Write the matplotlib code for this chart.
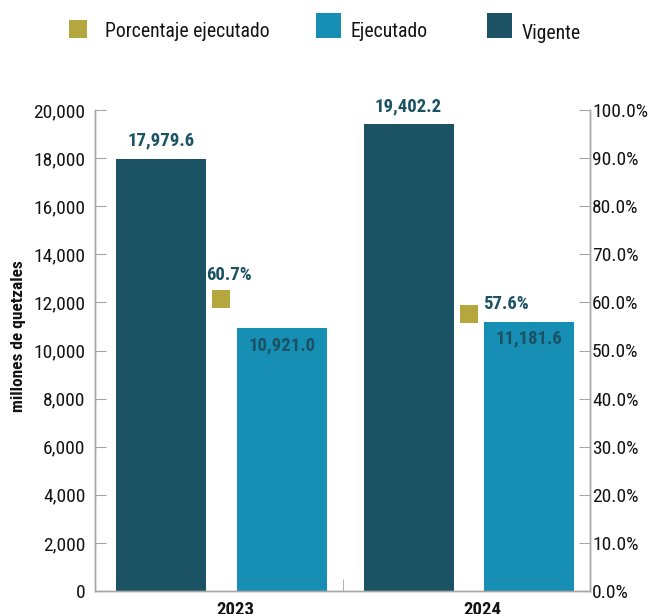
import matplotlib as mpl
import matplotlib.pyplot as plt
from matplotlib.patches import Rectangle
from matplotlib.ticker import FuncFormatter, MultipleLocator, FixedLocator
import numpy as np

# data
years = ["2023", "2024"]
vigente = [17979.6, 19402.2]
ejecutado = [10921.0, 11181.6]
porcentaje = [60.7, 57.6]

mpl.rcParams['font.family'] = ['Roboto Condensed', 'DejaVu Sans']

c_vig = "#1b5264"
c_eje = "#178fb5"
c_pct = "#b3a73d"
c_txt = "#1b5264"
c_axis = "#a6a6a6"
c_dark = "#141414"

W, H = 651, 614
fig = plt.figure(figsize=(W / 100, H / 100), dpi=100)
ax = fig.add_axes([95 / W, 1 - 591 / H, 495 / W, 481 / H])
ax2 = ax.twinx()

x = np.arange(len(years))
w = 0.364
off = 0.244

ax.bar(x - off, vigente, w, color=c_vig, zorder=2)
ax.bar(x + off, ejecutado, w, color=c_eje, zorder=2)

#value labels
for xi, v in zip(x, vigente):
    ax.text(xi - off, v + 380, f"{v:,.1f}", ha="center", va="bottom",
            fontsize=13.5, fontweight="bold", color=c_txt)
for xi, v in zip(x, ejecutado):
    ax.text(xi + off, v - 320, f"{v:,.1f}", ha="center", va="top",
            fontsize=13.5, fontweight="bold", color=c_txt)

#percentage markers
ax2.scatter(x, porcentaje, marker="s", s=170, color=c_pct, linewidths=0, zorder=3)
ax2.text(x[0] + 0.03, porcentaje[0] + 3.2, f"{porcentaje[0]:.1f}%", ha="center",
         va="bottom", fontsize=13.5, fontweight="bold", color=c_txt)
ax2.text(x[1] + 0.055, porcentaje[1] + 0.2, f"{porcentaje[1]:.1f}%", ha="left",
         va="bottom", fontsize=13.5, fontweight="bold", color=c_txt)

#axes
xlim = (-0.511, 1.489)
ax.set_xlim(*xlim)
ax.set_ylim(0, 20000)
ax2.set_ylim(0, 100)
ax.yaxis.set_major_locator(MultipleLocator(2000))
ax.yaxis.set_major_formatter(FuncFormatter(lambda v, p: f"{v:,.0f}"))
ax2.yaxis.set_major_locator(MultipleLocator(10))
ax2.yaxis.set_major_formatter(FuncFormatter(lambda v, p: f"{v:.1f}%"))

ax.set_xticks(x + 0.055)
ax.set_xticklabels(years, fontsize=13.5, fontweight="bold", color=c_dark)
ax.xaxis.set_minor_locator(FixedLocator([sum(xlim) / 2]))
ax.tick_params(axis="x", which="major", length=0, pad=7)
ax.tick_params(axis="x", which="minor", direction="in", length=9, color=c_axis)
ax.tick_params(axis="y", direction="in", length=8, color=c_axis,
               labelsize=14, labelcolor=c_dark, pad=7)
ax2.tick_params(axis="y", direction="in", length=8, color=c_axis,
                labelsize=14, labelcolor=c_dark, pad=1.5)

fig.text(19 / W, 1 - 336 / H, "millones de quetzales", rotation=90,
         ha="center", va="center", fontsize=12.5, fontweight="bold", color=c_dark)

for a in (ax, ax2):
    a.spines["top"].set_visible(False)
    for s in ("left", "right", "bottom"):
        a.spines[s].set_color(c_axis)
        a.spines[s].set_linewidth(1)

#legend (placed by hand like the original)
legend_items = [("Porcentaje ejecutado", c_pct, 69, 20.5, 18, 17, 105, 37.3),
                ("Ejecutado", c_eje, 316, 12.7, 25, 25, 351, 37.3),
                ("Vigente", c_vig, 487, 12.7, 25, 25, 522, 39.3)]
for lab, col, px, py, pw, ph, tx, ty in legend_items:
    fig.add_artist(Rectangle((px / W, 1 - (py + ph) / H), pw / W, ph / H,
                             transform=fig.transFigure, color=col, lw=0))
    fig.text(tx / W, 1 - ty / H, lab, ha="left", va="baseline",
             fontsize=14.2, color=c_dark)

fig.savefig("out.png", dpi=100)
